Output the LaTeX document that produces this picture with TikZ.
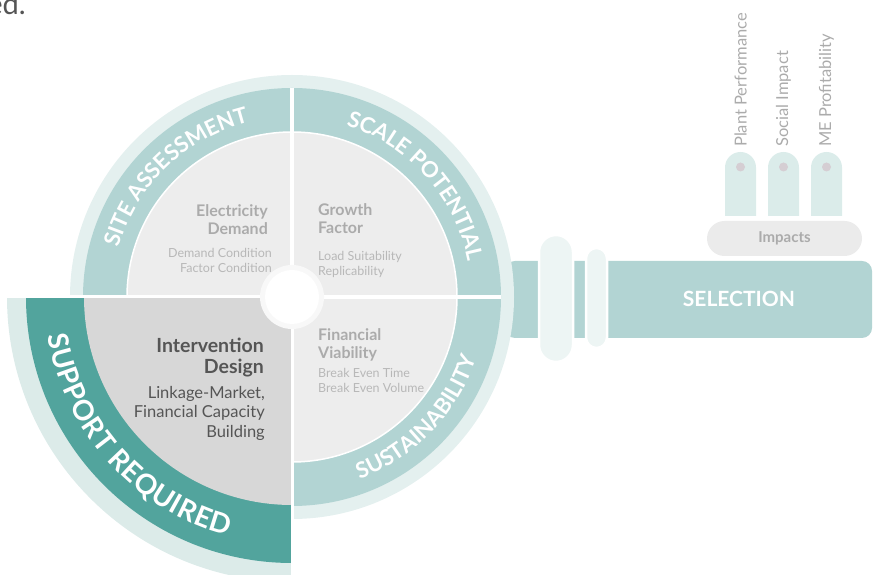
\documentclass[tikz,border=0pt]{standalone}
\usepackage{fontspec}
\setmainfont{Lato}
\usetikzlibrary{positioning,decorations.text}

\definecolor{ringlight}{HTML}{E4F0EF}
\definecolor{bandteal}{HTML}{B2D4D3}
\definecolor{discgray}{HTML}{EDEDED}
\definecolor{suplight}{HTML}{DCEBE9}
\definecolor{supteal}{HTML}{52A49D}
\definecolor{intgray}{HTML}{D7D7D7}
\definecolor{pilllight}{HTML}{EDF5F4}
\definecolor{impactgray}{HTML}{EBEBEB}
\definecolor{impactpill}{HTML}{DBECEA}
\definecolor{dotgray}{HTML}{D5CED3}
\definecolor{titlegray}{HTML}{ABABAB}
\definecolor{subgray}{HTML}{B8B8B8}
\definecolor{darktext}{HTML}{555555}

% letter gap for the big band label
\newcommand\lgap{\kern0.6pt}

\tikzstyle{qtitle} = [
inner sep=0pt,
font=\bfseries\fontsize{16}{18}\selectfont,
text=titlegray
]
\tikzstyle{qsub} = [
inner sep=0pt,
font=\fontsize{12.5}{15.5}\selectfont,
text=subgray
]
\tikzstyle{divider} = [
draw=white,
line width=4.5pt
]
\tikzstyle{pill} = [
fill=pilllight,
draw=white,
line width=2.5pt
]
\tikzstyle{bandlabel} = [
decorate,
decoration={text along path, text align=center, text color=white}
]
\tikzstyle{impactlabel} = [
inner sep=0pt,
rotate=90,
anchor=west,
font=\fontsize{16.5}{16.5}\selectfont,
text=titlegray
]

\begin{document}
\begin{tikzpicture}[x=1pt, y=1pt]
\useasboundingbox (0,0) rectangle (873,575);
\clip (0,0) rectangle (873,575);

\coordinate (C) at (292,278);

% Selection bar
\fill[bandteal, rounded corners=10] (505,237) -- (872,237) -- (872,314) -- (505,314) -- cycle;
\draw[pill, rounded corners=17] (539,213) rectangle (573,340);
\draw[pill, rounded corners=10.5] (586,227) rectangle (607,327);
\node (selection) [font=\bfseries\fontsize{21}{21}\selectfont, text=white] at (739,276) {SELECTION};

% Impacts
\node (impacts) [rounded corners=17.5, fill=impactgray, minimum width=155pt, minimum height=35pt,
  font=\bfseries\fontsize{15}{15}\selectfont, text=titlegray] at (784.5,336.5) {Impacts};
\foreach \x/\lbl/\nm in {740.5/Plant Performance/plant, 783.5/Social Impact/social, 826.5/ME Profitability/profit}{
  \fill[impactpill] (\x-15.5,359) -- (\x-15.5,407.5) arc[start angle=180, end angle=0, radius=15.5] -- (\x+15.5,359) -- cycle;
  \fill[dotgray] (\x,408) circle (4.5);
  \node (\nm) [impactlabel] at (\x,428) {\lbl};
}

% Wheel
\fill[ringlight] (C) circle (222);
\fill[bandteal] (C) circle (209);
\fill[discgray] (C) circle (165);
\draw[white, line width=1.5pt] (C) circle (165);
\draw[divider] (C) -- ++(0:209);
\draw[divider] (C) -- ++(90:209);

% Support quadrant
\fill[suplight] (C) -- ++(180:285) arc[start angle=180, end angle=270, radius=285] -- cycle;
\fill[supteal] (C) -- ++(180:266) arc[start angle=180, end angle=270, radius=266] -- cycle;
\fill[intgray] (C) -- ++(180:208) arc[start angle=180, end angle=270, radius=208] -- cycle;
\draw[divider, line width=3pt] (C) -- ++(180:290);
\draw[divider, line width=3pt] (C) -- ++(270:290);

% Hub
\fill[white!60!discgray] (C) circle (32);
\fill[white] (C) circle (27);

% Band labels
\begingroup
\bfseries\fontsize{22}{22}\selectfont
\path[bandlabel, decoration={text={SITE ASSESSMENT}}]
  ([shift={(194:180)}]C) arc[start angle=194, end angle=74, radius=180];
\path[bandlabel, decoration={text={SCALE POTENTIAL}}]
  ([shift={(102:180)}]C) arc[start angle=102, end angle=-18, radius=180];
\path[bandlabel, decoration={text={SUSTAINABILITY}}]
  ([shift={(-104:194.5)}]C) arc[start angle=-104, end angle=16, radius=194.5];
\endgroup
\begingroup
\bfseries\fontsize{28}{28}\selectfont
\path[bandlabel, decoration={text={{S\lgap}{U\lgap}{P\lgap}{P\lgap}{O\lgap}{R\lgap}{T\lgap} {R\lgap}{E\lgap}{Q\lgap}{U\lgap}{I\lgap}{R\lgap}{E\lgap}{D}}}]
  ([shift={(160:247)}]C) arc[start angle=160, end angle=284, radius=247];
\endgroup

% Quadrant texts
\node (elecT) [qtitle, anchor=north east, align=right] at (268,370.5) {Electricity\\Demand};
\node (elecS) [qsub, anchor=north east, align=right] at (272,327) {Demand Condition\\Factor Condition};
\node (growT) [qtitle, anchor=north west, align=left] at (318,371.5) {Growth\\Factor};
\node (growS) [qsub, anchor=north west, align=left] at (318,324) {Load Suitability\\Replicability};
\node (intT) [qtitle, anchor=north east, align=right, text=darktext,
  font=\bfseries\fontsize{19.5}{21}\selectfont] at (264,237) {Intervention\\Design};
\node (intS) [qsub, anchor=north east, align=right, text=darktext,
  font=\fontsize{16.5}{19.5}\selectfont] at (265,189) {Linkage-Market,\\Financial Capacity\\Building};
\node (finT) [qtitle, anchor=north west, align=left] at (318,246.5) {Financial\\Viability};
\node (finS) [qsub, anchor=north west, align=left] at (318,207) {Break Even Time\\Break Even Volume};

% Caption fragment
\node (caption) [anchor=base east, inner sep=0pt, font=\fontsize{29}{29}\selectfont, text=darktext] at (26,560) {ed.};

\end{tikzpicture}
\end{document}
